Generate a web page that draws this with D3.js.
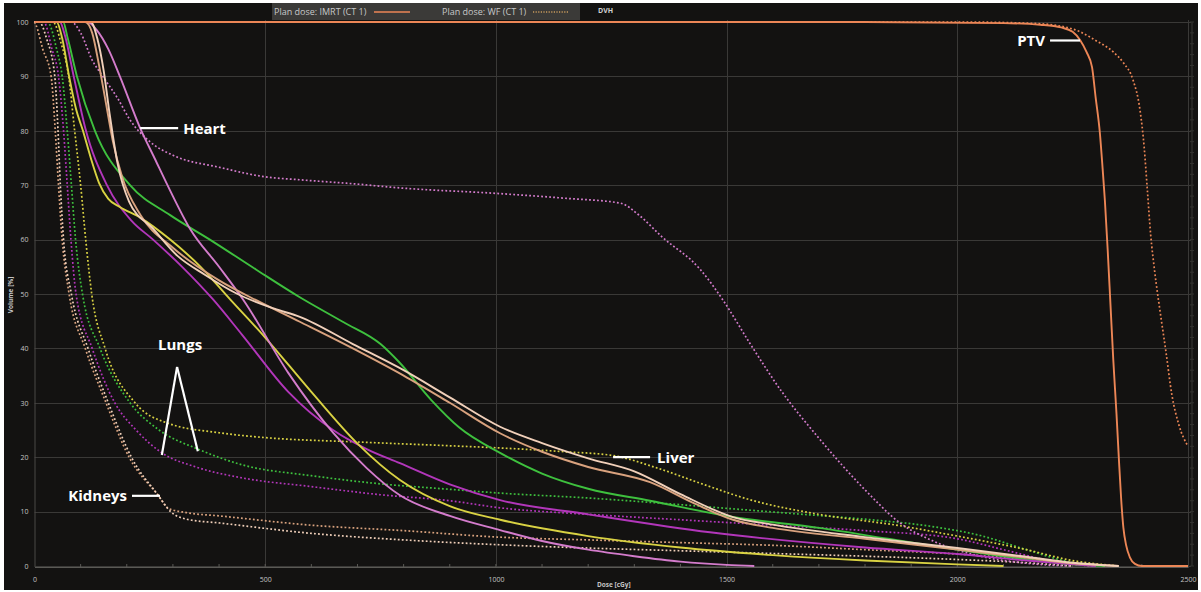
<!DOCTYPE html>
<html>
<head>
<meta charset="utf-8">
<script src="https://cdn.jsdelivr.net/npm/d3@7"></script>
<style>
  html, body { margin: 0; padding: 0; background: #ffffff; }
  svg { display: block; }
</style>
</head>
<body>
<svg id="chart" width="1201" height="592"></svg>
<script>
// Axis ticks
const doseTicks = [0, 500, 1000, 1500, 2000, 2500];
const volumeTicks = [0, 10, 20, 30, 40, 50, 60, 70, 80, 90, 100];
const planNames = ["Plan dose: IMRT (CT 1)", "Plan dose: WF (CT 1)"];

// Cumulative DVH points, [dose cGy, volume %]
// IMRT plan
const ptvImrt = [[0,100],[1800,100],[2100,99.8],[2180,99.5],[2225,99],[2250,98.2],[2266,96.7],[2280,94.5],[2292,91.7],[2300,86],[2309,79.6],[2315,73],[2320,67],[2326,58],[2332,48],[2338,38],[2345,28],[2350,20],[2355,12.5],[2360,7],[2366,3.8],[2374,1.6],[2385,0.4],[2400,0],[2500,0]];
const heartImrt = [[0,100],[115,100],[135,98.5],[160,95],[185,90],[229,80.5],[260,75],[294,69],[337,62],[400,55],[452,49],[550,35.5],[647,24.5],[720,18],[792,13],[900,9.2],[1009,6.6],[1100,4.6],[1200,3],[1300,1.8],[1400,0.8],[1500,0.2],[1560,0]];
const liverImrt = [[0,100],[48,100],[60,97],[75,90],[90,84],[105,80],[122,75],[140,70.4],[160,67.5],[185,66],[230,64],[294,60],[360,55],[424,49],[500,42],[600,32],[700,22.5],[792,15.8],[900,11],[1009,8.5],[1200,5.5],[1400,3.4],[1600,2],[1800,1],[2000,0.3],[2100,0]];
const lungLImrt = [[0,100],[62,100],[72,97],[92,90],[131,80],[207,70],[294,64.5],[380,60],[480,54.5],[575,49.4],[670,44.8],[750,40.8],[790,37.5],[860,30.5],[920,25.5],[1009,20.8],[1100,17],[1200,14.2],[1334,12],[1514,9],[1700,7],[1850,5],[2000,3],[2150,1.2],[2250,0.3],[2320,0]];
const lungRImrt = [[0,100],[55,100],[66,97.5],[85,90],[110,80.5],[157,70],[210,63.5],[257,60],[320,55],[387,49],[450,42.5],[550,32],[647,25],[720,21.5],[792,18.9],[900,15],[1009,12.1],[1200,9.5],[1464,6.2],[1800,3.4],[2000,2.2],[2150,1],[2300,0]];
const kidneyLImrt = [[0,100],[110,100],[125,98],[140,92],[155,85],[170,78],[190,71.5],[230,64.5],[300,58.5],[400,52.5],[489,48.5],[575,44.9],[690,40],[800,35],[900,30],[1009,24.4],[1100,21],[1200,18.2],[1334,15.4],[1430,11.5],[1514,8.5],[1600,7],[1800,5],[2000,3],[2150,1.5],[2250,0.5],[2350,0]];
const kidneyRImrt = [[0,100],[122,100],[136,97],[150,91],[163,83],[180,74],[205,67],[257,62],[310,57],[370,53.5],[440,50],[520,47.3],[575,45.8],[690,40.8],[800,36],[900,31],[1009,25.6],[1100,22.6],[1200,19.8],[1300,17.4],[1400,13.2],[1514,9],[1600,7.6],[1800,5.3],[2000,3.3],[2150,1.7],[2250,0.6],[2350,0]];

// WF plan
const ptvWf = [[0,100],[2000,100],[2150,99.8],[2220,99.3],[2266,98.2],[2300,96.6],[2338,94.5],[2360,92.5],[2381,89.3],[2396,83.8],[2405,77],[2412,69],[2419,61],[2428,54],[2440,46.5],[2452,39.5],[2465,31.5],[2480,26],[2500,22]];
const heartWf = [[0,100],[80,100],[100,98],[125,93],[148,90],[180,86],[207,82],[250,78],[300,75.5],[400,73.3],[504,71.5],[575,71],[700,70.2],[792,69.5],[1000,68.5],[1150,67.6],[1270,66.7],[1310,64.5],[1360,60.5],[1442,54.6],[1492,48.9],[1550,41],[1620,32],[1700,23.5],[1800,14],[1876,7.9],[1950,4.5],[2050,1.8],[2150,0.5],[2250,0]];
const liverWf = [[0,100],[40,100],[58,96],[74,90],[87,80],[100,70],[111,60],[124,50],[153,40],[218,30],[287,26.3],[400,24.5],[500,23.6],[700,22.8],[900,22.1],[1009,21.7],[1150,21],[1254,20.3],[1350,18],[1450,15],[1550,12.2],[1700,9.5],[1876,7.4],[2000,5.5],[2150,3],[2250,1],[2350,0]];
const lungLWf = [[0,100],[28,100],[48,95],[60,90],[71,80],[80,70],[89,60],[104,50],[142,40],[207,30],[270,25],[354,21.5],[450,18.6],[600,16.6],[750,15.1],[900,14.1],[1009,13.4],[1200,12.5],[1350,11.6],[1500,10.6],[1650,9.6],[1800,8.6],[1950,7.2],[2050,5.6],[2150,3],[2230,1],[2300,0]];
const lungRWf = [[0,100],[20,100],[38,95],[52,90],[63,80],[71,70],[79,60],[90,50],[125,40],[174,30],[220,25],[276,20.8],[350,18.2],[450,16.2],[600,14.6],[750,13.1],[900,12],[1009,10.7],[1200,9.5],[1400,8.5],[1600,7.5],[1800,6.5],[2000,5],[2100,3],[2200,1],[2300,0]];
const kidneyLWf = [[0,100],[3,99.5],[18,95],[36,90],[45,80],[52,70],[60,60],[75,50],[110,40],[155,30],[205,20],[268,13],[290,10.6],[330,9.8],[402,9.2],[600,7.5],[800,6.5],[1009,5.3],[1200,4.8],[1400,4.3],[1600,3.8],[1800,3],[2000,2.2],[2150,1.2],[2250,0.3],[2300,0]];
const kidneyRWf = [[0,100],[10,100],[26,97],[44,90],[51,80],[56,70],[63,60],[80,50],[116,40],[160,30],[210,20],[268,13],[295,10],[330,8.6],[402,7.9],[600,6],[800,4.8],[1009,3.9],[1200,3.3],[1400,2.8],[1600,2.3],[1800,1.8],[2000,1.2],[2150,0.6],[2250,0]];

// Callout labels anchored at [dose, volume] points
const callouts = [
  { text: "Heart",   tip: [229, 80.5] },
  { text: "Liver",   tip: [1254, 20] },
  { text: "Kidneys", tip: [272, 12.9] },
  { text: "PTV",     tip: [2266, 96.6] }
];
const lungTips = [[276, 20.4], [354, 21.1]];
const lungApex = [309, 36.6];

// Structure colours and plan line styles
const colours = {
  ptv: "#ec8656", heart: "#d47ccc", liver: "#d9d243", lungL: "#3ec03e",
  lungR: "#b236ba", kidneyL: "#d9a27e", kidneyR: "#f1d0ba"
};
const series = [
  { data: kidneyLWf, c: colours.kidneyL, plan: 1 },
  { data: kidneyRWf, c: colours.kidneyR, plan: 1 },
  { data: lungRWf,   c: colours.lungR,   plan: 1 },
  { data: lungLWf,   c: colours.lungL,   plan: 1 },
  { data: liverWf,   c: colours.liver,   plan: 1 },
  { data: heartWf,   c: colours.heart,   plan: 1 },
  { data: ptvWf,     c: colours.ptv,     plan: 1 },
  { data: lungLImrt,   c: colours.lungL,   plan: 0 },
  { data: lungRImrt,   c: colours.lungR,   plan: 0 },
  { data: liverImrt,   c: colours.liver,   plan: 0 },
  { data: heartImrt,   c: colours.heart,   plan: 0 },
  { data: kidneyLImrt, c: colours.kidneyL, plan: 0 },
  { data: kidneyRImrt, c: colours.kidneyR, plan: 0 },
  { data: ptvImrt,     c: colours.ptv,     plan: 0 }
];

const svg = d3.select("#chart");
const W = 1201, H = 592;

// panel background with thin light frame
svg.append("rect").attr("x", 0).attr("y", 0).attr("width", W).attr("height", H).attr("fill", "#ffffff");
svg.append("rect").attr("x", 4).attr("y", 3).attr("width", 1194).attr("height", 587).attr("fill", "#131211");

const x = d3.scaleLinear().domain([0, 2500]).range([34.5, 1188]);
const y = d3.scaleLinear().domain([0, 100]).range([566, 22]);

// grid
const grid = svg.append("g").attr("stroke", "#3a3937").attr("stroke-width", 1);
grid.selectAll("line.h").data(volumeTicks).join("line")
  .attr("x1", x(0)).attr("x2", x(2500) + 3)
  .attr("y1", d => Math.round(y(d)) + 0.5).attr("y2", d => Math.round(y(d)) + 0.5);
grid.selectAll("line.v").data(doseTicks.slice(1)).join("line")
  .attr("x1", d => Math.round(x(d)) + 0.5).attr("x2", d => Math.round(x(d)) + 0.5)
  .attr("y1", 20).attr("y2", y(0));

// axes
const yAxis = d3.axisLeft(y).tickValues(volumeTicks).tickSize(0).tickPadding(6);
const gy = svg.append("g").attr("transform", `translate(${x(0)},0)`).call(yAxis);
gy.select(".domain").attr("stroke", "#4a4946");
gy.selectAll("text").attr("fill", "#c4c4c4").style("font", "7px 'Open Sans', sans-serif");

const xAxis = d3.axisBottom(x).tickValues(doseTicks).tickFormat(d3.format("d")).tickSize(0).tickPadding(10);
const gx = svg.append("g").attr("transform", `translate(0,${y(0) + 1})`).call(xAxis);
gx.select(".domain").attr("stroke", "#5a5955");
gx.selectAll("text").attr("fill", "#c4c4c4").style("font", "7px 'Open Sans', sans-serif");

// minor dose ticks every 100 cGy
svg.append("g").selectAll("line").data(d3.range(100, 2500, 100)).join("line")
  .attr("x1", d => x(d)).attr("x2", d => x(d))
  .attr("y1", y(0) - 2).attr("y2", y(0) + 1)
  .attr("stroke", "#5a5955");

// right edge tick column
svg.append("line").attr("x1", x(2500) + 4).attr("x2", x(2500) + 4)
  .attr("y1", y(100)).attr("y2", y(0)).attr("stroke", "#3a3937");
svg.append("g").selectAll("line").data(d3.range(0, 101, 2)).join("line")
  .attr("x1", x(2500) + 2).attr("x2", x(2500) + 6)
  .attr("y1", d => y(d)).attr("y2", d => y(d))
  .attr("stroke", "#33322f");

// axis titles
svg.append("text").attr("transform", `translate(13,295) rotate(-90)`)
  .attr("text-anchor", "middle").attr("fill", "#c4c4c4")
  .style("font", "bold 6.5px 'Open Sans', sans-serif").text("Volume [%]");
svg.append("text").attr("x", 597).attr("y", 587)
  .attr("fill", "#c4c4c4").style("font", "bold 6.5px 'Open Sans', sans-serif").text("Dose [cGy]");

// DVH curves
const line = d3.line().x(d => x(d[0])).y(d => y(d[1])).curve(d3.curveMonotoneX);
const curves = svg.append("g").attr("fill", "none");
curves.selectAll("path").data(series).join("path")
  .attr("d", d => line(d.data))
  .attr("stroke", d => d.c)
  .attr("stroke-width", d => d.plan === 0 ? 1.9 : 1.7)
  .attr("stroke-dasharray", d => d.plan === 1 ? "1.8,2.2" : null)
  .attr("stroke-linejoin", "round");

// legend band
const leg = svg.append("g");
leg.append("rect").attr("x", 272).attr("y", 3).attr("width", 308).attr("height", 17).attr("fill", "#3b3a38");
leg.append("text").attr("x", 274).attr("y", 15).attr("fill", "#c8c8c8")
  .style("font", "9px 'Open Sans', sans-serif").text(planNames[0]);
leg.append("line").attr("x1", 374).attr("x2", 410).attr("y1", 12).attr("y2", 12)
  .attr("stroke", colours.ptv).attr("stroke-width", 1.6);
leg.append("text").attr("x", 442).attr("y", 15).attr("fill", "#c8c8c8")
  .style("font", "9px 'Open Sans', sans-serif").text(planNames[1]);
leg.append("line").attr("x1", 533).attr("x2", 568).attr("y1", 12).attr("y2", 12)
  .attr("stroke", "#c89a5c").attr("stroke-width", 1.4).attr("stroke-dasharray", "1.2,1.4");
leg.append("text").attr("x", 598).attr("y", 13).attr("fill", "#d0d0d0")
  .style("font", "bold 7px 'Open Sans', sans-serif").text("DVH");

// callouts
const ann = svg.append("g").attr("fill", "#ffffff").style("font", "bold 15px 'Open Sans', sans-serif");
const callLine = (x1, y1, x2, y2) => ann.append("line")
  .attr("x1", x1).attr("y1", y1).attr("x2", x2).attr("y2", y2)
  .attr("stroke", "#ffffff").attr("stroke-width", 2.2);

// Heart: line to the right of the tip, label after it
{
  const [d, v] = callouts[0].tip;
  callLine(x(d), y(v), x(d) + 38, y(v));
  ann.append("text").attr("x", x(d) + 43).attr("y", y(v) + 6).text(callouts[0].text);
}
// Liver
{
  const [d, v] = callouts[1].tip;
  callLine(x(d), y(v), x(d) + 37, y(v));
  ann.append("text").attr("x", x(d) + 44).attr("y", y(v) + 6).text(callouts[1].text);
}
// Kidneys: label to the left of the tip
{
  const [d, v] = callouts[2].tip;
  callLine(x(d) - 28, y(v), x(d), y(v));
  ann.append("text").attr("x", x(d) - 33).attr("y", y(v) + 5).attr("text-anchor", "end").text(callouts[2].text);
}
// PTV
{
  const [d, v] = callouts[3].tip;
  callLine(x(d) - 30, y(v), x(d), y(v));
  ann.append("text").attr("x", x(d) - 35).attr("y", y(v) + 6).attr("text-anchor", "end").text(callouts[3].text);
}
// Lungs: two legs from one apex
lungTips.forEach(t => callLine(x(lungApex[0]), y(lungApex[1]), x(t[0]), y(t[1])));
ann.append("text").attr("x", x(lungApex[0]) + 3).attr("y", y(lungApex[1]) - 17)
  .attr("text-anchor", "middle").text("Lungs");
</script>
</body>
</html>
